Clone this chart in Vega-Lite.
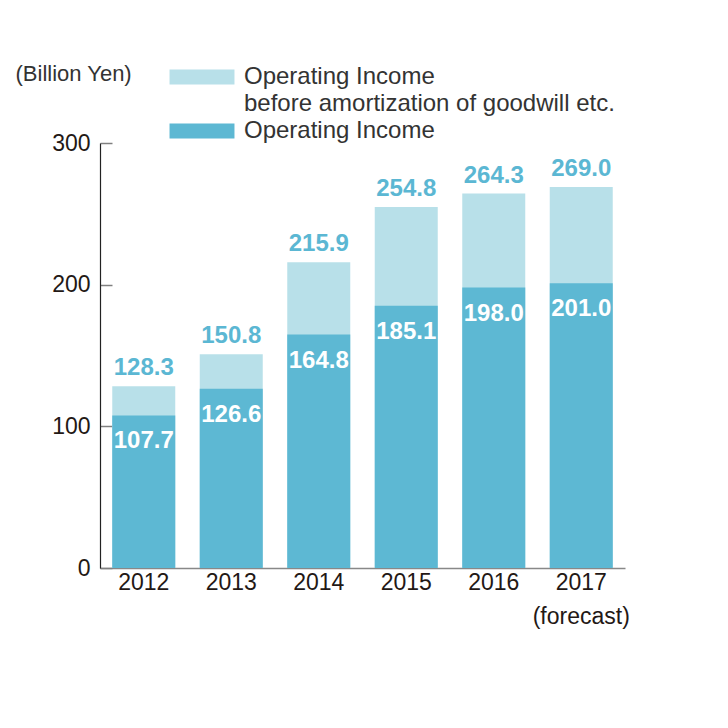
{
  "$schema": "https://vega.github.io/schema/vega-lite/v6.json",
  "autosize": "none",
  "width": 525,
  "height": 425,
  "padding": {"left": 100, "top": 143, "right": 103, "bottom": 160},
  "background": "white",
  "config": {
    "font": "Liberation Sans",
    "view": {"stroke": null}
  },
  "data": {
    "values": [
      {"year": "2012", "series": "before", "value": 128.3},
      {"year": "2012", "series": "op", "value": 107.7},
      {"year": "2013", "series": "before", "value": 150.8},
      {"year": "2013", "series": "op", "value": 126.6},
      {"year": "2014", "series": "before", "value": 215.9},
      {"year": "2014", "series": "op", "value": 164.8},
      {"year": "2015", "series": "before", "value": 254.8},
      {"year": "2015", "series": "op", "value": 185.1},
      {"year": "2016", "series": "before", "value": 264.3},
      {"year": "2016", "series": "op", "value": 198.0},
      {"year": "2017", "series": "before", "value": 269.0},
      {"year": "2017", "series": "op", "value": 201.0}
    ]
  },
  "encoding": {
    "x": {
      "field": "year",
      "type": "nominal",
      "scale": {"paddingInner": 0.28, "paddingOuter": 0.14},
      "axis": {
        "title": null,
        "labelAngle": 0,
        "labelFontSize": 23,
        "labelColor": "#231815",
        "labelPadding": 3,
        "labelLineHeight": 34,
        "labelBaseline": "top",
        "ticks": false,
        "domainColor": "#888888",
        "domainWidth": 1.5,
        "labelExpr": "datum.value == '2017' ? ['2017', '(forecast)'] : datum.label"
      }
    },
    "y": {
      "field": "value",
      "type": "quantitative",
      "stack": null,
      "scale": {"domain": [0, 300], "nice": false},
      "axis": {
        "values": [0, 100, 200, 300],
        "grid": false,
        "title": "(Billion Yen)",
        "titleAngle": 0,
        "titleAlign": "left",
        "titleBaseline": "middle",
        "titleX": -85,
        "titleY": -70,
        "titleFontSize": 22,
        "titleFontWeight": "normal",
        "titleColor": "#333333",
        "labelFontSize": 23,
        "labelColor": "#231815",
        "labelPadding": 22,
        "tickSize": -12,
        "tickColor": "#808080",
        "tickWidth": 1.5,
        "domainColor": "#222222",
        "domainWidth": 1.2
      }
    }
  },
  "layer": [
    {
      "mark": {"type": "bar"},
      "encoding": {
        "color": {
          "field": "series",
          "type": "nominal",
          "scale": {"domain": ["before", "op"], "range": ["#b8e0e9", "#5db8d3"]},
          "legend": {
            "orient": "none",
            "legendX": 90,
            "legendY": -78,
            "title": null,
            "symbolType": "M-4.33,-1H4.33V1H-4.33Z",
            "symbolSize": 225,
            "symbolStrokeWidth": 0,
            "symbolOpacity": 1,
            "labelFontSize": 24,
            "labelColor": "#333333",
            "labelOffset": 30,
            "labelLimit": 500,
            "rowPadding": 3,
            "labelExpr": "datum.value == 'before' ? ['Operating Income', 'before amortization of goodwill etc.'] : 'Operating Income'",
            "encode": {"labels": {"update": {"lineHeight": {"value": 27}}}}
          }
        }
      }
    },
    {
      "transform": [{"filter": "datum.series == 'before'"}],
      "mark": {"type": "text", "fontSize": 24, "fontWeight": "bold", "color": "#5bb7d3", "baseline": "middle", "dy": -18},
      "encoding": {"text": {"field": "value", "type": "quantitative", "format": ".1f"}}
    },
    {
      "transform": [{"filter": "datum.series == 'op'"}],
      "mark": {"type": "text", "fontSize": 24, "fontWeight": "bold", "color": "white", "baseline": "middle", "dy": 26},
      "encoding": {"text": {"field": "value", "type": "quantitative", "format": ".1f"}}
    }
  ]
}
